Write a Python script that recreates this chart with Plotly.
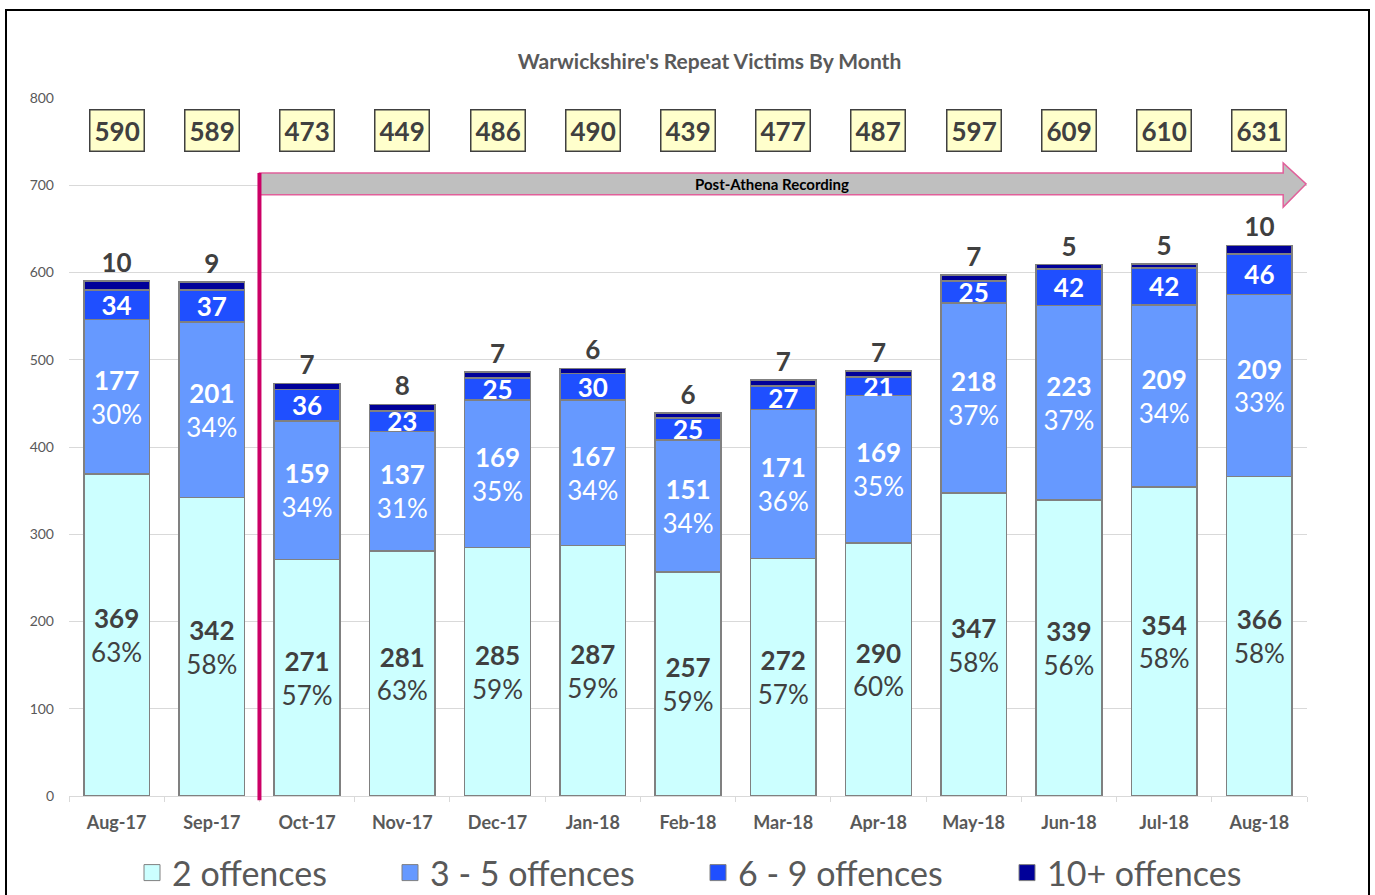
import plotly.graph_objects as go

months = ["Aug-17", "Sep-17", "Oct-17", "Nov-17", "Dec-17", "Jan-18", "Feb-18",
          "Mar-18", "Apr-18", "May-18", "Jun-18", "Jul-18", "Aug-18"]
two_off = [369, 342, 271, 281, 285, 287, 257, 272, 290, 347, 339, 354, 366]
three_five = [177, 201, 159, 137, 169, 167, 151, 171, 169, 218, 223, 209, 209]
six_nine = [34, 37, 36, 23, 25, 30, 25, 27, 21, 25, 42, 42, 46]
ten_plus = [10, 9, 7, 8, 7, 6, 6, 7, 7, 7, 5, 5, 10]
totals = [590, 589, 473, 449, 486, 490, 439, 477, 487, 597, 609, 610, 631]
pct_two = [63, 58, 57, 63, 59, 59, 59, 57, 60, 58, 56, 58, 58]
pct_three = [30, 34, 34, 31, 35, 34, 34, 36, 35, 37, 37, 34, 33]

series_names = ["2 offences", "3 - 5 offences", "6 - 9 offences", "10+ offences"]
colors = ["#CCFFFF", "#6699FF", "#1F4FFF", "#000099"]

FONT = "Lato"
DARK = "#404040"
GREY = "#595959"
LBL = 26

W, H = 1375, 895
fig = go.Figure()
outline = dict(color="#808080", width=1.5)

fig.add_trace(go.Bar(
    x=months, y=two_off, marker=dict(color=colors[0], line=outline),
    text=[f"<b>{v}</b><br>{p}%" for v, p in zip(two_off, pct_two)],
    textposition="inside", insidetextanchor="middle", constraintext="none",
    textangle=0,
    textfont=dict(family=FONT, size=LBL, color=DARK), showlegend=False,
    name=series_names[0]))
fig.add_trace(go.Bar(
    x=months, y=three_five, marker=dict(color=colors[1], line=outline),
    text=[f"<b>{v}</b><br>{p}%" for v, p in zip(three_five, pct_three)],
    textposition="inside", insidetextanchor="middle", constraintext="none",
    textangle=0,
    textfont=dict(family=FONT, size=LBL, color="white"), showlegend=False,
    name=series_names[1]))
fig.add_trace(go.Bar(
    x=months, y=six_nine, marker=dict(color=colors[2], line=outline),
    text=[f"<b>{v}</b>" for v in six_nine],
    textposition="inside", insidetextanchor="middle", constraintext="none",
    textangle=0,
    textfont=dict(family=FONT, size=LBL, color="white"), showlegend=False,
    name=series_names[2]))
fig.add_trace(go.Bar(
    x=months, y=ten_plus, marker=dict(color=colors[3], line=outline),
    text=[f"<b>{v}</b>" for v in ten_plus],
    textposition="outside", constraintext="none", cliponaxis=False,
    textangle=0,
    outsidetextfont=dict(family=FONT, size=LBL, color=DARK), showlegend=False,
    name=series_names[3]))

# legend entries (one legend per entry so they can be spaced like the original)
legend_ids = ["legend", "legend2", "legend3", "legend4"]
legend_left_px = [132, 390, 698, 1007]
for n, c, lid in zip(series_names, colors, legend_ids):
    fig.add_trace(go.Scatter(
        x=[None], y=[None], mode="markers", name=n, legend=lid,
        marker=dict(symbol="square", size=18, color=c,
                    line=dict(color="#808080", width=1))))

# total boxes
for m, t in zip(months, totals):
    fig.add_annotation(x=m, y=763, text=f"<b>{t}</b>", showarrow=False,
                       font=dict(family=FONT, size=LBL, color=DARK),
                       bgcolor="#FFFFCC", bordercolor="#404040",
                       borderwidth=1.5, borderpad=4)

# Post-Athena arrow
x_start, x_head, x_tip = 1.5, 12.25, 12.49
arrow_path = (f"M {x_start},689 L {x_start},714 L {x_head},714 L {x_head},725.5 "
              f"L {x_tip},701.5 L {x_head},675 L {x_head},689 Z")
fig.add_shape(type="path", path=arrow_path, xref="x", yref="y",
              fillcolor="#BFBFBF", line=dict(color="#E0609A", width=1.5))
fig.add_annotation(x=6.88, y=701.5, text="<b>Post-Athena Recording</b>",
                   showarrow=False, font=dict(family=FONT, size=15, color="black"))
fig.add_shape(type="line", xref="x", yref="paper", x0=1.5, x1=1.5,
              y0=-0.006, y1=714 / 800, line=dict(color="#CC0066", width=4))

# outer border
fig.add_shape(type="rect", xref="paper", yref="paper",
              x0=(6 - 69) / 1238, x1=(1369 - 69) / 1238,
              y0=-0.16, y1=(796 - 10) / 698,
              line=dict(color="black", width=2), fillcolor="rgba(0,0,0,0)")

legend_style = dict(orientation="h", xanchor="left",
                    yref="container", y=1 - 873 / H, yanchor="middle",
                    font=dict(family=FONT, size=34, color=GREY),
                    itemsizing="trace", bgcolor="rgba(0,0,0,0)")
legends = {lid: dict(legend_style, x=(px - 69) / 1238)
           for lid, px in zip(legend_ids, legend_left_px)}

fig.update_layout(
    width=W, height=H,
    margin=dict(l=69, r=68, t=98, b=99),
    barmode="stack", bargap=0.31,
    paper_bgcolor="white", plot_bgcolor="white",
    font=dict(family=FONT, color=GREY),
    uniformtext=dict(mode="show", minsize=LBL),
    title=dict(text="<b>Warwickshire's Repeat Victims By Month</b>",
               x=0.516, xanchor="center", y=1 - 62 / H, yanchor="middle",
               font=dict(family=FONT, size=21, color=GREY)),
    xaxis=dict(type="category", showline=True, linecolor="#D9D9D9", linewidth=1,
               ticks="outside", tickson="boundaries", ticklen=5, tickcolor="#D9D9D9",
               ticklabelstandoff=10,
               tickfont=dict(family=FONT, size=18, color=GREY),
               tickprefix="<b>", ticksuffix="</b>", showgrid=False),
    yaxis=dict(range=[0, 800], dtick=100, showgrid=True, gridcolor="#D9D9D9",
               gridwidth=1, zeroline=False, showline=False, ticklabelstandoff=14,
               tickfont=dict(family=FONT, size=14, color=GREY)),
    **legends,
)

fig.write_html("out.html", config={"displayModeBar": False},
               post_script="document.body.style.margin='0';")
